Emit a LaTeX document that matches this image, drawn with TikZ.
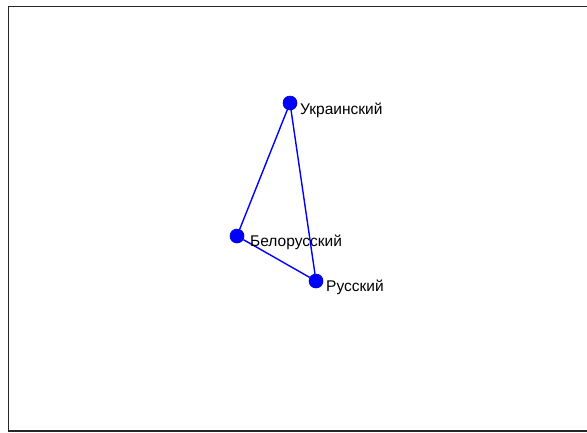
\documentclass[tikz,border=0pt]{standalone}
\usepackage{fontspec}
\setmainfont{Liberation Sans}
\begin{document}
\begin{tikzpicture}[x=1bp,y=-1bp,
  vertex/.style={circle,fill=blue,draw=blue!80!black,line width=0.6bp,inner sep=0pt,minimum size=14bp},
  edge/.style={draw=blue,line width=1.4bp},
  tag/.style={font=\fontsize{15.5bp}{18bp}\selectfont,anchor=base west,inner sep=0pt}]
  \useasboundingbox (0,0) rectangle (587,432);
  % frame (open on the right)
  \draw[line width=1.3bp,black!85] (587,6.5) -- (8.5,6.5) -- (8.5,431) -- (587,431);
  % graph
  \node[vertex] (ukr) at (290,103) {};
  \node[vertex] (bel) at (237,236) {};
  \node[vertex] (rus) at (316,281) {};
  \draw[edge] (ukr) -- (bel);
  \draw[edge] (ukr) -- (rus);
  \draw[edge] (bel) -- (rus);
  \node[tag] (lukr) at (300,114) {Украинский};
  \node[tag] (lbel) at (250,246) {Белорусский};
  \node[tag] (lrus) at (326,291) {Русский};
\end{tikzpicture}
\end{document}
